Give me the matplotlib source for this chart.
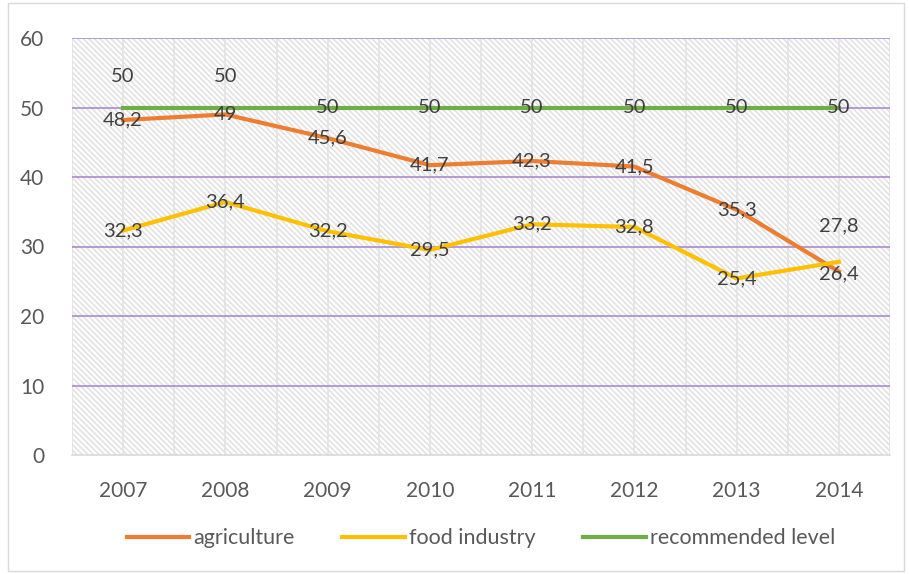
import numpy as np
import matplotlib.pyplot as plt

years = ['2007', '2008', '2009', '2010', '2011', '2012', '2013', '2014']
agriculture = [48.2, 49, 45.6, 41.7, 42.3, 41.5, 35.3, 26.4]
food_industry = [32.3, 36.4, 32.2, 29.5, 33.2, 32.8, 25.4, 27.8]
recommended = [50, 50, 50, 50, 50, 50, 50, 50]

plt.rcParams['font.family'] = ['Lato', 'DejaVu Sans']
plt.rcParams['hatch.linewidth'] = 1.1

fig = plt.figure(figsize=(9.09, 5.74), dpi=100)
ax = fig.add_axes([72 / 909, 1 - 455 / 574, 818 / 909, 417 / 574])

x = np.arange(len(years))
ax.set_xlim(-0.5, len(years) - 0.5)
ax.set_ylim(0, 60)

# hatched plot area
ax.add_patch(plt.Rectangle((0, 0), 1, 1, transform=ax.transAxes, facecolor='white',
                           edgecolor='#e0e0e0', linewidth=0, hatch='\\' * 6, zorder=0))
for xv in np.arange(-0.5, len(years), 0.5):
    ax.axvline(xv, color='#e3e3e3', lw=1.2, zorder=0.5)
for yv in range(10, 61, 10):
    ax.axhline(yv, color='#a98bd0', lw=1.2, zorder=1)

txt = '#404040'
ax.plot(x, agriculture, color='#ED7D31', lw=3, label='agriculture', zorder=3)
ax.plot(x, food_industry, color='#FFC000', lw=3, label='food industry', zorder=3)
ax.plot(x, recommended, color='#70AD47', lw=3, label='recommended level', zorder=3)

fmt = lambda v: f'{v:g}'.replace('.', ',')
for i in range(len(years)):
    dy = -0.3 if i == 7 else 0
    ax.text(x[i], agriculture[i] + dy, fmt(agriculture[i]), ha='center', va='center',
            fontsize=14.5, color=txt, zorder=4)
    dy = 5.2 if i == 7 else 0
    ax.text(x[i], food_industry[i] + dy, fmt(food_industry[i]), ha='center', va='center',
            fontsize=14.5, color=txt, zorder=4)
    dy = 4.4 if i < 2 else 0
    ax.text(x[i], recommended[i] + dy, fmt(recommended[i]), ha='center', va='center',
            fontsize=14.5, color=txt, zorder=4)

ax.set_xticks(x)
ax.set_xticklabels(years)
ax.set_yticks(range(0, 61, 10))
ax.tick_params(axis='both', length=0, labelsize=15, colors='#595959')
ax.tick_params(axis='x', pad=19)
ax.tick_params(axis='y', pad=20)
for s in ['top', 'right', 'left']:
    ax.spines[s].set_visible(False)
ax.spines['bottom'].set_color('#d9d9d9')
ax.spines['bottom'].set_linewidth(1.2)

ax.legend(loc='center', bbox_to_anchor=(0.5, -0.2), ncol=3, frameon=False,
          fontsize=15.5, labelcolor='#595959', handlelength=2.9, columnspacing=2.2,
          handletextpad=0.2)

fig.add_artist(plt.Rectangle((8 / 909, 0.005), 896 / 909, 0.99, transform=fig.transFigure,
                             fill=False, edgecolor='#d9d9d9', lw=1))

fig.savefig('out.png', dpi=100)
